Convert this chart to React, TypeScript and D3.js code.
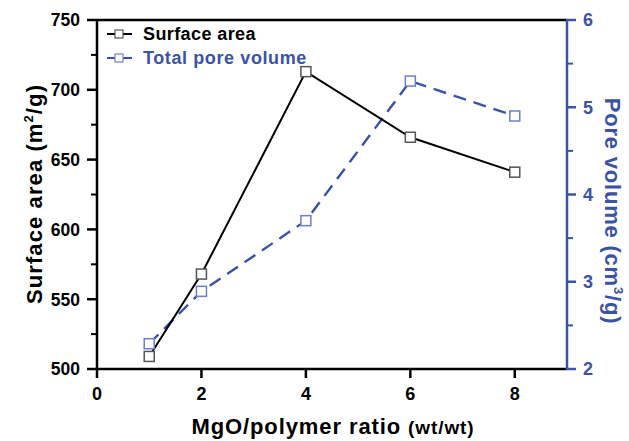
import React from "react";
import * as d3 from "d3";

const ratios = [1, 2, 4, 6, 8];
const surfaceArea = [509, 568, 713, 666, 641];
const poreVolume = [2.29, 2.89, 3.7, 5.3, 4.9];
const xTicks = [0, 2, 4, 6, 8];
const leftTicks = [500, 550, 600, 650, 700, 750];
const leftMinor = [525, 575, 625, 675, 725];
const rightTicks = [2, 3, 4, 5, 6];
const rightMinor = [2.5, 3.5, 4.5, 5.5];

const W = 629;
const H = 441;
const margin = { top: 20, right: 62, bottom: 72, left: 97 };
const BLUE = "#3a52a8";
const FONT = "'Liberation Sans', Arial, sans-serif";

export default function App() {
  const x = d3.scaleLinear().domain([0, 9]).range([margin.left, W - margin.right]);
  const yL = d3.scaleLinear().domain([500, 750]).range([H - margin.bottom, margin.top]);
  const yR = d3.scaleLinear().domain([2, 6]).range([H - margin.bottom, margin.top]);

  const x0 = margin.left;
  const x1 = W - margin.right;
  const y0 = H - margin.bottom;
  const y1 = margin.top;

  const saLine = d3.line<number>().x((_, i) => x(ratios[i])).y(d => yL(d))(surfaceArea) ?? "";
  const pvLine = d3.line<number>().x((_, i) => x(ratios[i])).y(d => yR(d))(poreVolume) ?? "";

  const sq = 10;

  return (
    <svg width={W} height={H} style={{ position: "absolute", left: 0, top: 0, background: "#fff" }} fontFamily={FONT} fontWeight="bold">
      {/* series */}
      <path d={pvLine} fill="none" stroke={BLUE} strokeWidth={2.4} strokeDasharray="13,8" />
      <path d={saLine} fill="none" stroke="#000" strokeWidth={2} />
      {poreVolume.map((v, i) => (
        <rect key={"p" + i} x={x(ratios[i]) - sq / 2} y={yR(v) - sq / 2} width={sq} height={sq} fill="#fff" stroke="#6b7fd0" strokeWidth={1.5} />
      ))}
      {surfaceArea.map((v, i) => (
        <rect key={"s" + i} x={x(ratios[i]) - sq / 2} y={yL(v) - sq / 2} width={sq} height={sq} fill="#fff" stroke="#555" strokeWidth={1.5} />
      ))}

      {/* frame */}
      <line x1={x0} x2={x1} y1={y1} y2={y1} stroke="#000" strokeWidth={2.5} />
      <line x1={x0} x2={x1} y1={y0} y2={y0} stroke="#000" strokeWidth={2.5} />
      <line x1={x0} x2={x0} y1={y1 - 1} y2={y0 + 1} stroke="#000" strokeWidth={2.5} />
      <line x1={x1} x2={x1} y1={y1 - 1} y2={y0 + 1} stroke={BLUE} strokeWidth={2.5} />

      {/* x axis */}
      {xTicks.map(t => (
        <g key={"x" + t}>
          <line x1={x(t)} x2={x(t)} y1={y0} y2={y0 + 9} stroke="#000" strokeWidth={2.5} />
          <text x={x(t)} y={y0 + 31} textAnchor="middle" fontSize={18}>{t}</text>
        </g>
      ))}

      {/* left axis */}
      {leftTicks.map(t => (
        <g key={"l" + t}>
          <line x1={x0 - 10} x2={x0} y1={yL(t)} y2={yL(t)} stroke="#000" strokeWidth={2.5} />
          <text x={x0 - 17} y={yL(t)} dy="0.36em" textAnchor="end" fontSize={17.5}>{t}</text>
        </g>
      ))}
      {leftMinor.map(t => (
        <line key={"lm" + t} x1={x0 - 6} x2={x0} y1={yL(t)} y2={yL(t)} stroke="#000" strokeWidth={2} />
      ))}

      {/* right axis */}
      {rightTicks.map(t => (
        <g key={"r" + t}>
          <line x1={x1} x2={x1 + 9} y1={yR(t)} y2={yR(t)} stroke={BLUE} strokeWidth={2.5} />
          <text x={x1 + 16} y={yR(t)} dy="0.36em" textAnchor="start" fontSize={18} fill={BLUE}>{t}</text>
        </g>
      ))}
      {rightMinor.map(t => (
        <line key={"rm" + t} x1={x1} x2={x1 + 6} y1={yR(t)} y2={yR(t)} stroke={BLUE} strokeWidth={2} />
      ))}

      {/* axis titles */}
      <text x={333} y={434} textAnchor="middle" fontSize={22} letterSpacing={0.9}>
        MgO/polymer ratio <tspan fontSize={19}>(wt/wt)</tspan>
      </text>
      <text transform={`translate(42,${194}) rotate(-90)`} textAnchor="middle" fontSize={22} letterSpacing={1.1}>
        Surface area (m<tspan fontSize={13} dy={-9}>2</tspan><tspan dy={9}>/g)</tspan>
      </text>
      <text transform={`translate(605,${211}) rotate(90)`} textAnchor="middle" fontSize={22} letterSpacing={0.8} fill={BLUE}>
        Pore volume (cm<tspan fontSize={13} dy={-9}>3</tspan><tspan dy={9}>/g)</tspan>
      </text>

      {/* legend */}
      <g>
        <line x1={107} x2={132} y1={34} y2={34} stroke="#000" strokeWidth={2} />
        <rect x={115} y={30} width={8} height={8} fill="#fff" stroke="#555" strokeWidth={1.2} />
        <text x={143} y={40} fontSize={18} letterSpacing={0.4}>Surface area</text>
        <line x1={107} x2={132} y1={58} y2={58} stroke={BLUE} strokeWidth={2} />
        <rect x={115} y={54} width={8} height={8} fill="#fff" stroke="#6b7fd0" strokeWidth={1.2} />
        <text x={143} y={64} fontSize={18} letterSpacing={0.6} fill={BLUE}>Total pore volume</text>
      </g>
    </svg>
  );
}
